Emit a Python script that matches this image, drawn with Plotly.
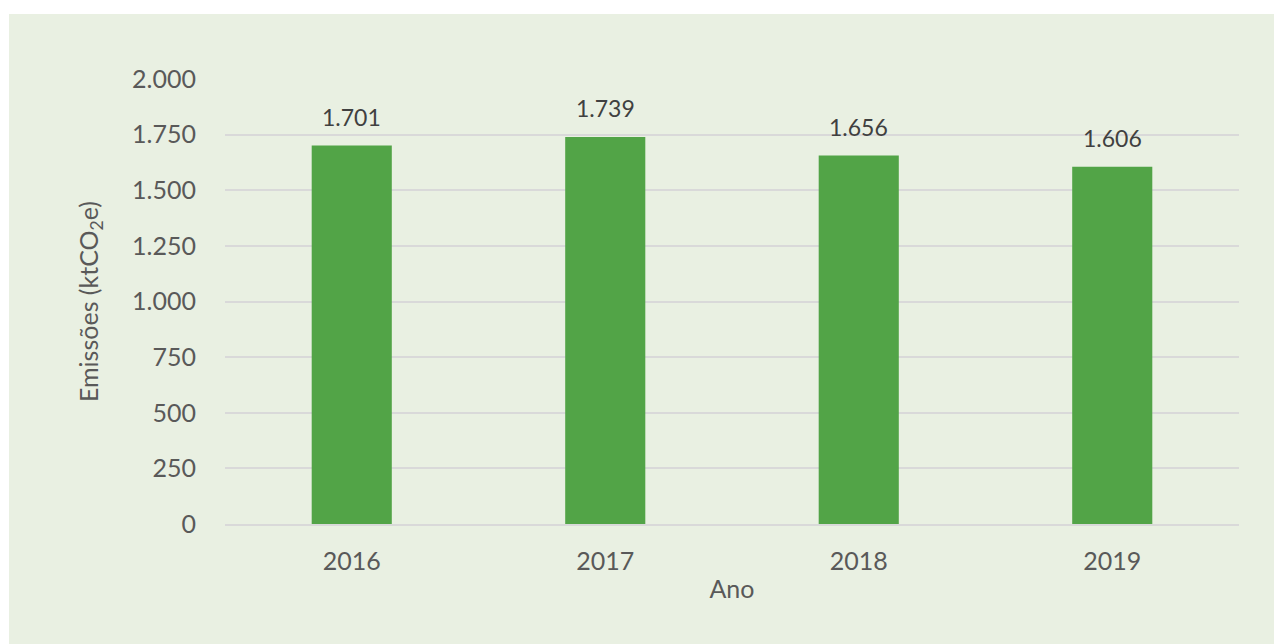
import plotly.graph_objects as go

anos = ["2016", "2017", "2018", "2019"]
emissoes = [1701, 1739, 1656, 1606]

# page body has an 8px margin; compensate
OFF = 8
W, H = 1282 - OFF, 644 - OFF
L, T = 225 - OFF, 79 - OFF
R = W - (1239 - OFF)
B = H - (524 - OFF)
pw, ph = W - L - R, H - T - B

fig = go.Figure(go.Bar(
    x=anos, y=emissoes,
    marker=dict(color="#52A447", line=dict(width=0)),
    hoverinfo="x+y",
))

# category index positions of each year on the category axis
for i, v in enumerate(emissoes):
    fig.add_annotation(x=i, y=v, text=f"{v:,}".replace(",", "."),
                       showarrow=False, yanchor="bottom", yshift=13,
                       font=dict(family="Lato", size=23, color="#404040"))

fig.add_shape(type="rect", xref="paper", yref="paper", layer="below",
              x0=(9 - OFF - L) / pw, x1=(W + 10 - L) / pw,
              y0=-(B + 10) / ph, y1=(H - B - (14 - OFF)) / ph,
              fillcolor="#E9F0E2", line=dict(width=0))

fig.update_layout(
    width=W, height=H,
    margin=dict(l=L, r=R, t=T, b=B, autoexpand=False),
    paper_bgcolor="white", plot_bgcolor="rgba(0,0,0,0)",
    separators=",.",
    bargap=0.684,
    font=dict(family="Lato", color="#595959", size=25),
    showlegend=False,
    xaxis=dict(type="category",
               title=dict(text="Ano", font=dict(size=25, color="#595959"), standoff=6),
               tickfont=dict(size=25, color="#595959"),
               showline=True, linecolor="#D9D9D9", linewidth=2,
               ticks="", showgrid=False, ticklabelstandoff=14),
    yaxis=dict(title=dict(text="Emissões (ktCO<sub>2</sub>e)", font=dict(size=25, color="#595959"), standoff=26),
               range=[0, 2000], dtick=250, tickformat=",d",
               tickfont=dict(size=25, color="#595959"),
               showgrid=True, gridcolor="#D9D9D9", gridwidth=2,
               zeroline=False, showline=False, ticks="", ticklabelstandoff=28),
)

fig.write_html("out.html")
